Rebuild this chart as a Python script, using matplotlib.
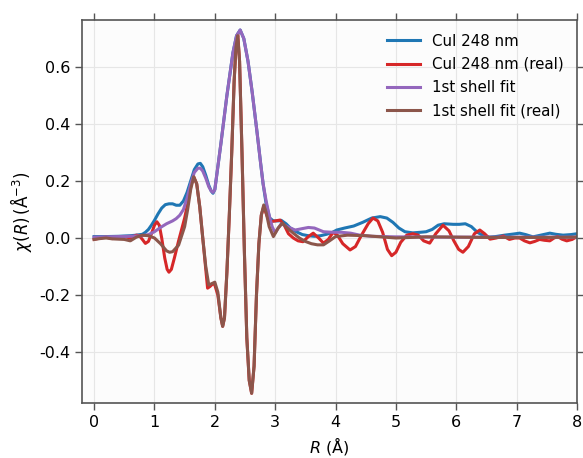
import matplotlib
matplotlib.use("Agg")
import matplotlib.pyplot as plt

plt.rcParams['axes.unicode_minus'] = False
plt.rcParams['font.family'] = ['DejaVu Sans']

# |chi(R)| data (CuI 248 nm)
r_mag = [0, 0.2, 0.4, 0.6, 0.7, 0.8, 0.85, 0.9, 0.95, 1.0, 1.06, 1.12, 1.18, 1.24, 1.3, 1.36,
         1.42, 1.48, 1.54, 1.6, 1.66, 1.72, 1.76, 1.8, 1.85, 1.9, 1.94, 1.97, 2.0, 2.05, 2.1,
         2.2, 2.3, 2.36, 2.42, 2.48, 2.55, 2.62, 2.7, 2.76, 2.8, 2.85, 2.91, 2.97, 3.05, 3.1,
         3.18, 3.25, 3.35, 3.45, 3.55, 3.65, 3.75, 3.85, 3.95, 4.02, 4.15, 4.3, 4.45, 4.6,
         4.74, 4.85, 4.95, 5.05, 5.15, 5.28, 5.4, 5.5, 5.6, 5.7, 5.8, 5.95, 6.05, 6.15, 6.25,
         6.35, 6.45, 6.55, 6.65, 6.8, 6.95, 7.05, 7.15, 7.27, 7.4, 7.55, 7.65, 7.77, 7.9, 8.0]
data_mag = [0.005, 0.005, 0.006, 0.008, 0.01, 0.013, 0.02, 0.03, 0.045, 0.062, 0.085, 0.105,
            0.117, 0.12, 0.12, 0.115, 0.115, 0.13, 0.16, 0.2, 0.24, 0.26, 0.262, 0.25, 0.22,
            0.185, 0.165, 0.157, 0.17, 0.25, 0.33, 0.5, 0.65, 0.71, 0.73, 0.7, 0.62, 0.51,
            0.37, 0.26, 0.19, 0.12, 0.07, 0.06, 0.06, 0.062, 0.05, 0.035, 0.022, 0.012, 0.008,
            0.006, 0.008, 0.013, 0.02, 0.028, 0.035, 0.042, 0.055, 0.07, 0.075, 0.07, 0.055,
            0.035, 0.022, 0.018, 0.02, 0.022, 0.03, 0.045, 0.05, 0.048, 0.048, 0.05, 0.04,
            0.02, 0.008, 0.003, 0.005, 0.01, 0.014, 0.017, 0.012, 0.004, 0.01, 0.017, 0.013,
            0.01, 0.012, 0.015]

# Re chi(R) data
r_re = [0, 0.1, 0.2, 0.3, 0.4, 0.5, 0.6, 0.7, 0.75, 0.8, 0.85, 0.9, 0.95, 1.0, 1.04, 1.08,
        1.12, 1.17, 1.21, 1.24, 1.28, 1.33, 1.4, 1.45, 1.5, 1.55, 1.6, 1.65, 1.7, 1.75, 1.8,
        1.85, 1.88, 1.92, 1.97, 2.0, 2.05, 2.1, 2.13, 2.16, 2.2, 2.24, 2.28, 2.32, 2.35, 2.38,
        2.41, 2.45, 2.49, 2.53, 2.57, 2.61, 2.65, 2.69, 2.73, 2.77, 2.81, 2.86, 2.91, 3.0,
        3.08, 3.15, 3.22, 3.3, 3.38, 3.46, 3.55, 3.63, 3.72, 3.8, 3.88, 3.96, 4.03, 4.12,
        4.24, 4.33, 4.43, 4.54, 4.62, 4.7, 4.78, 4.86, 4.93, 5.0, 5.08, 5.18, 5.28, 5.37,
        5.46, 5.56, 5.66, 5.78, 5.88, 5.96, 6.04, 6.11, 6.2, 6.3, 6.39, 6.47, 6.56, 6.66,
        6.78, 6.88, 6.97, 7.05, 7.13, 7.22, 7.3, 7.38, 7.46, 7.55, 7.62, 7.68, 7.75, 7.83,
        7.92, 8.0]
data_re = [-0.005, 0.0, 0.003, -0.002, 0.003, 0.005, 0.0, 0.01, 0.008, -0.005, -0.019, -0.012,
           0.015, 0.045, 0.057, 0.045, 0.0, -0.07, -0.11, -0.12, -0.11, -0.07, -0.01, 0.03,
           0.07, 0.12, 0.18, 0.215, 0.19, 0.11, 0.0, -0.11, -0.176, -0.17, -0.16, -0.165,
           -0.2, -0.28, -0.31, -0.28, -0.12, 0.08, 0.3, 0.55, 0.67, 0.715, 0.62, 0.3, -0.05,
           -0.35, -0.5, -0.545, -0.45, -0.2, -0.02, 0.08, 0.11, 0.08, 0.057, 0.06, 0.063,
           0.045, 0.015, 0.0, -0.01, -0.013, 0.005, 0.017, 0.0, -0.018, -0.005, 0.02, 0.01,
           -0.02, -0.042, -0.03, 0.01, 0.05, 0.07, 0.06, 0.02, -0.04, -0.062, -0.05, -0.015,
           0.01, 0.015, 0.01, -0.01, -0.018, 0.015, 0.045, 0.025, -0.01, -0.04, -0.05, -0.03,
           0.015, 0.028, 0.015, -0.004, 0.0, 0.007, -0.005, 0.0, 0.0, -0.01, -0.017, -0.012,
           -0.005, -0.008, -0.01, 0.0, 0.005, -0.004, -0.01, -0.005, 0.005]

# |chi(R)| first-shell fit
r_fit_mag = [0, 0.2, 0.4, 0.6, 0.7, 0.8, 0.9, 1.0, 1.1, 1.2, 1.3, 1.36, 1.42, 1.48, 1.54, 1.6,
             1.66, 1.72, 1.76, 1.8, 1.85, 1.9, 1.94, 1.97, 2.0, 2.05, 2.1, 2.2, 2.3, 2.36,
             2.42, 2.48, 2.55, 2.62, 2.7, 2.76, 2.8, 2.85, 2.9, 2.95, 3.0, 3.05, 3.1, 3.2,
             3.33, 3.45, 3.55, 3.65, 3.8, 3.95, 4.1, 4.25, 4.4, 4.6, 5.0, 6.0, 7.0, 8.0]
fit_mag = [0.003, 0.004, 0.005, 0.006, 0.007, 0.008, 0.012, 0.022, 0.037, 0.05, 0.06, 0.068,
           0.08, 0.1, 0.14, 0.19, 0.23, 0.245, 0.245, 0.235, 0.21, 0.18, 0.165, 0.16, 0.17,
           0.25, 0.33, 0.5, 0.65, 0.71, 0.73, 0.7, 0.62, 0.51, 0.37, 0.26, 0.19, 0.13, 0.08,
           0.04, 0.018, 0.035, 0.05, 0.04, 0.028, 0.033, 0.037, 0.035, 0.022, 0.02, 0.02,
           0.017, 0.01, 0.006, 0.004, 0.003, 0.003, 0.003]

# Re chi(R) first-shell fit
r_fit_re = [0, 0.1, 0.2, 0.3, 0.4, 0.5, 0.6, 0.7, 0.8, 0.9, 1.0, 1.1, 1.2, 1.25, 1.3, 1.4, 1.5,
            1.55, 1.6, 1.65, 1.7, 1.75, 1.8, 1.85, 1.9, 1.95, 2.0, 2.05, 2.1, 2.13, 2.16, 2.2,
            2.24, 2.28, 2.32, 2.35, 2.38, 2.41, 2.45, 2.49, 2.53, 2.57, 2.61, 2.65, 2.69, 2.73,
            2.77, 2.81, 2.85, 2.9, 2.97, 3.05, 3.12, 3.2, 3.3, 3.4, 3.5, 3.6, 3.7, 3.8, 3.9,
            4.0, 4.2, 4.5, 5.0, 5.5, 6.0, 6.5, 7.0, 7.5, 8.0]
fit_re = [-0.005, -0.002, 0.0, -0.003, -0.004, -0.005, -0.01, 0.003, 0.01, 0.008, 0.0, -0.02,
          -0.045, -0.05, -0.048, -0.025, 0.04, 0.1, 0.17, 0.215, 0.19, 0.11, 0.0, -0.1,
          -0.165, -0.16, -0.155, -0.19, -0.28, -0.31, -0.28, -0.12, 0.08, 0.3, 0.55, 0.67,
          0.71, 0.62, 0.3, -0.05, -0.35, -0.5, -0.545, -0.45, -0.2, -0.02, 0.08, 0.116, 0.09,
          0.04, 0.005, 0.035, 0.052, 0.035, 0.017, 0.0, -0.012, -0.02, -0.024, -0.024, -0.01,
          0.005, 0.01, 0.008, 0.0, 0.004, 0.003, 0.002, 0.002, 0.002, 0.003]

labels = ['CuI 248 nm', 'CuI 248 nm (real)', '1st shell fit', '1st shell fit (real)']
colors = ['#1f77b4', '#d62728', '#9467bd', '#8c564b']
x_ticks = [0, 1, 2, 3, 4, 5, 6, 7, 8]
y_ticks = [-0.4, -0.2, 0.0, 0.2, 0.4, 0.6]

fig = plt.figure(figsize=(5.83, 4.58), dpi=100)
ax = fig.add_axes([0.1407, 0.1201, 0.8490, 0.8362])
ax.set_facecolor('#fcfcfc')

series = [(r_mag, data_mag), (r_re, data_re), (r_fit_mag, fit_mag), (r_fit_re, fit_re)]
for (rr, vv), lab, col in zip(series, labels, colors):
    ax.plot(rr, vv, color=col, lw=2.2, label=lab, solid_joinstyle='round')

ax.set_xlim(-0.2, 8.0)
ax.set_ylim(-0.579, 0.765)
ax.set_xticks(x_ticks)
ax.set_yticks(y_ticks)
ax.set_xticklabels([str(t) for t in x_ticks])
ax.set_yticklabels(['%.1f' % t for t in y_ticks])
ax.grid(True, color='#e6e6e6', lw=0.8)
ax.set_axisbelow(True)

for s in ax.spines.values():
    s.set_color('#555555')
    s.set_linewidth(1.2)
ax.tick_params(direction='out', length=5, width=1.0, color='#555555', labelsize=11.5,
               top=True, right=True, labeltop=False, labelright=False)

ax.set_xlabel(r'$R$ (Å)', fontsize=11.5)
ax.set_ylabel(r'$\chi(R)\,(\mathrm{\AA}^{-3})$', fontsize=12)

ax.legend(loc='upper right', frameon=False, fontsize=10.8, labelspacing=0.55,
          handlelength=2.2)

fig.savefig('out.png', dpi=100)
